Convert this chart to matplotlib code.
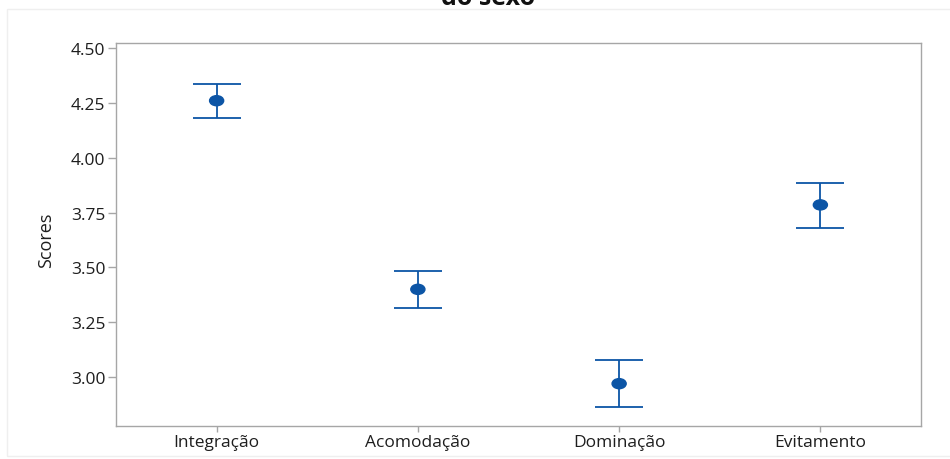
import matplotlib
matplotlib.use("Agg")
import matplotlib.pyplot as plt
from matplotlib.patches import Rectangle, Ellipse

# Mean scores with 95% CI bounds per conflict style
styles = ["Integração", "Acomodação", "Dominação", "Evitamento"]
means = [4.26, 3.40, 2.97, 3.785]
ci_low = [4.18, 3.315, 2.862, 3.68]
ci_high = [4.335, 3.485, 3.08, 3.885]
yticks = [3.00, 3.25, 3.50, 3.75, 4.00, 4.25, 4.50]

blue = "#0C55A6"
grey = "#A6A6A6"

plt.rcParams["font.family"] = ["Open Sans", "DejaVu Sans"]

fig = plt.figure(figsize=(9.5, 4.6), dpi=100)
W, H = 950, 460
ax = fig.add_axes([116 / W, 1 - 427 / H, (921 - 116) / W, (427 - 44) / H])

# faint outer frame of the graph window
fig.patches.append(Rectangle((7 / W, 3 / H), 1.2, 1 - 13 / H, transform=fig.transFigure,
                             fill=False, edgecolor="#EFEFEF", linewidth=1))

x = list(range(len(styles)))
yerr = [[m - lo for m, lo in zip(means, ci_low)], [hi - m for m, hi in zip(means, ci_high)]]
ax.errorbar(x, means, yerr=yerr, fmt="none", ecolor=blue, elinewidth=1.3,
            capsize=17, capthick=1.3)
# slightly flattened dots
for xi, m in zip(x, means):
    ax.add_patch(Ellipse((xi, m), width=0.07, height=0.046, color=blue, zorder=3))

ax.set_xlim(-0.5, 3.5)
ax.set_ylim(2.777, 4.523)
ax.set_xticks(x)
ax.set_xticklabels(styles)
ax.set_yticks(yticks)
ax.set_yticklabels([f"{v:.2f}" for v in yticks])
ax.tick_params(axis="both", colors=grey, labelcolor="#1E1E1E", labelsize=12.5, width=1)
ax.tick_params(axis="y", length=5.5, pad=2)
ax.tick_params(axis="x", length=4, pad=1.5)
for s in ax.spines.values():
    s.set_color(grey)
    s.set_linewidth(1)

fig.text(46 / W, 1 - 240 / H, "Scores", rotation=90, ha="center", va="center",
         fontsize=13, color="#1E1E1E")
fig.text(488 / W, 1 - 5 / H, "do sexo", ha="center", va="baseline",
         fontsize=18, fontweight="bold", color="#111111")

fig.savefig("out.png", dpi=100)
